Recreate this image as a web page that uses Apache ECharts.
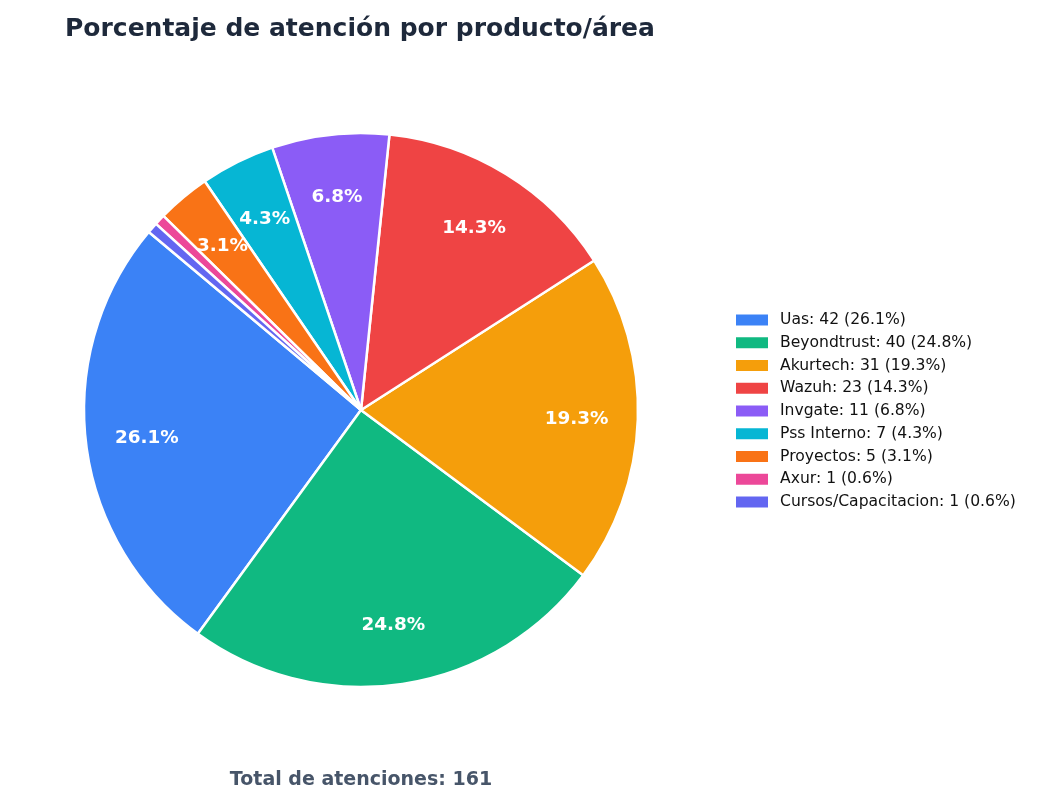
<!DOCTYPE html>
<html lang="es" style="height: 100%">
<head>
  <meta charset="utf-8">
</head>
<body style="height: 100%; margin: 0">
  <div id="container" style="height: 100%"></div>
  <script type="text/javascript" src="https://cdn.jsdelivr.net/npm/echarts@6/dist/echarts.min.js"></script>
  <script type="text/javascript">
    const categories = ['Uas', 'Beyondtrust', 'Akurtech', 'Wazuh', 'Invgate', 'Pss Interno', 'Proyectos', 'Axur', 'Cursos/Capacitacion'];
    const counts = [42, 40, 31, 23, 11, 7, 5, 1, 1];
    const colors = ['#3b82f6', '#10b981', '#f59e0b', '#ef4444', '#8b5cf6', '#06b6d4', '#f97316', '#ec4899', '#6366f1'];

    const total = counts.reduce((a, b) => a + b, 0);
    const pct = (v) => (v / total * 100).toFixed(1);
    const data = categories.map((name, i) => ({
      name,
      value: counts[i],
      itemStyle: { color: colors[i] }
    }));
    const countOf = {};
    categories.forEach((c, i) => { countOf[c] = counts[i]; });

    var dom = document.getElementById('container');
    var myChart = echarts.init(dom, null, { renderer: 'canvas' });
    const font = 'DejaVu Sans';
    const center = [361, 410];
    const R = 277;

    var option = {
      backgroundColor: '#ffffff',
      animation: false,
      title: [
        {
          text: 'Porcentaje de atención por producto/área',
          left: 60,
          top: 12,
          textStyle: { fontFamily: font, fontWeight: 'bold', fontSize: 25, color: '#1e293b' }
        },
        {
          text: 'Total de atenciones: ' + total,
          left: 356,
          textAlign: 'center',
          top: 766,
          textStyle: { fontFamily: font, fontWeight: 'bold', fontSize: 19, color: '#475569' }
        }
      ],
      legend: {
        orient: 'vertical',
        left: 729,
        top: 306,
        itemWidth: 34,
        itemHeight: 13,
        itemGap: 4.75,
        icon: 'rect',
        data: categories,
        formatter: (name) => name + ': ' + countOf[name] + ' (' + pct(countOf[name]) + '%)',
        textStyle: { fontFamily: font, fontSize: 15.6, color: '#111111', lineHeight: 18, padding: [0, 0, 0, 6] }
      },
      series: [
        {
          type: 'pie',
          center,
          radius: [0, R],
          startAngle: 140,
          clockwise: false,
          avoidLabelOverlap: false,
          silent: true,
          data,
          itemStyle: { borderColor: '#ffffff', borderWidth: 2.5 },
          label: { show: false },
          labelLine: { show: false }
        },
        {
          type: 'pie',
          center: [361, 412],
          radius: [R * 0.536, R],
          startAngle: 140,
          clockwise: false,
          avoidLabelOverlap: false,
          silent: true,
          legendHoverLink: false,
          data: categories.map((name, i) => ({ name, value: counts[i] })),
          itemStyle: { color: 'rgba(0,0,0,0)', borderWidth: 0 },
          label: {
            show: true,
            position: 'inside',
            formatter: (p) => (p.value / total * 100 < 2 ? '' : pct(p.value) + '%'),
            fontFamily: font,
            fontWeight: 'bold',
            fontSize: 18.4,
            color: '#ffffff'
          },
          labelLine: { show: false }
        }
      ]
    };

    myChart.setOption(option);
    window.addEventListener('resize', myChart.resize);
  </script>
</body>
</html>
